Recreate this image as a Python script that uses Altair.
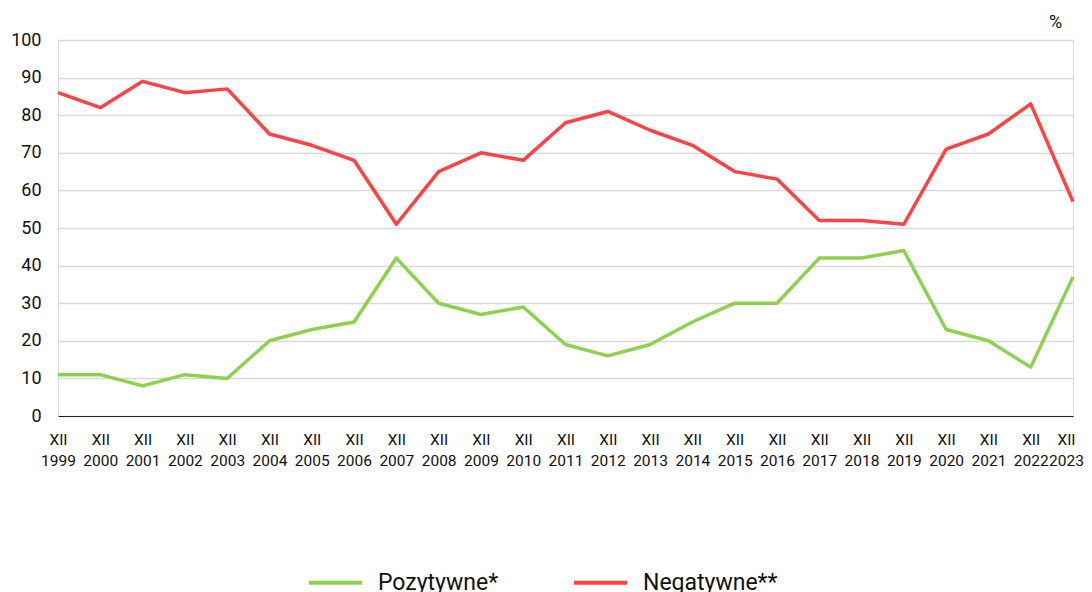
import altair as alt
import pandas as pd

years = [str(y) for y in range(1999, 2024)]
pozytywne = [11, 11, 8, 11, 10, 20, 23, 25, 42, 30, 27, 29, 19, 16, 19, 25, 30, 30, 42, 42, 44, 23, 20, 13, 37]
negatywne = [86, 82, 89, 86, 87, 75, 72, 68, 51, 65, 70, 68, 78, 81, 76, 72, 65, 63, 52, 52, 51, 71, 75, 83, 57]
y_ticks = list(range(0, 101, 10))
series_names = ["Pozytywne*", "Negatywne**"]
series_colors = ["#8FD14F", "#FF4245"]

rows = []
for i, y in enumerate(years):
    rows.append({"rok": y, "seria": series_names[0], "wartosc": pozytywne[i], "ord": 0})
    rows.append({"rok": y, "seria": series_names[1], "wartosc": negatywne[i], "ord": 1})
df = pd.DataFrame(rows)

FONT = "Roboto"

lines = alt.Chart(df).mark_line(strokeWidth=3.5, strokeJoin="round").encode(
    x=alt.X("rok:O", sort=years,
            scale=alt.Scale(type="point", padding=0),
            axis=alt.Axis(title=None, labelAngle=0, grid=False, ticks=False,
                          domain=True, domainColor="#222", domainWidth=1.2,
                          labelExpr="['XII', datum.value]", labelLineHeight=21,
                          labelPadding=16, labelFontSize=15.5, labelColor="#111",
                          labelFont=FONT, labelBaseline="top",
                          labelOffset={"condition": {"test": "datum.value == '2023'", "value": -7},
                                       "value": 0})),
    y=alt.Y("wartosc:Q", scale=alt.Scale(domain=[0, 100], nice=False),
            axis=alt.Axis(values=y_ticks, labelOverlap=False,
                          title="%", titleAngle=0,
                          titleX=997, titleY=-9, titleFontSize=18, titleFontWeight="normal",
                          titleFont=FONT, titleColor="#111", titleAlign="center",
                          ticks=False, domain=False, labelPadding=17, labelFontSize=18,
                          labelFont=FONT, labelColor="#111",
                          gridColor="#D9D9D9", gridWidth=1.5)),
    color=alt.Color("seria:N", sort=series_names,
                    scale=alt.Scale(domain=series_names, range=series_colors),
                    legend=alt.Legend(title=None, orient="none", direction="horizontal",
                                      legendX=249, legendY=514,
                                      symbolType="stroke", symbolSize=2809, symbolStrokeWidth=4,
                                      labelFontSize=23, labelFont=FONT, labelColor="#111",
                                      labelOffset=14, columnPadding=67, labelLimit=300)),
    order="ord:Q",
    detail="seria:N",
)

chart = lines.properties(
    width=1015, height=376,
    padding={"left": 50, "top": 32, "right": 11, "bottom": 200},
    autosize=alt.AutoSizeParams(type="none"),
).configure_view(stroke=None).configure(font=FONT)

chart.save("out.html", embed_options={"renderer": "svg", "actions": False})
